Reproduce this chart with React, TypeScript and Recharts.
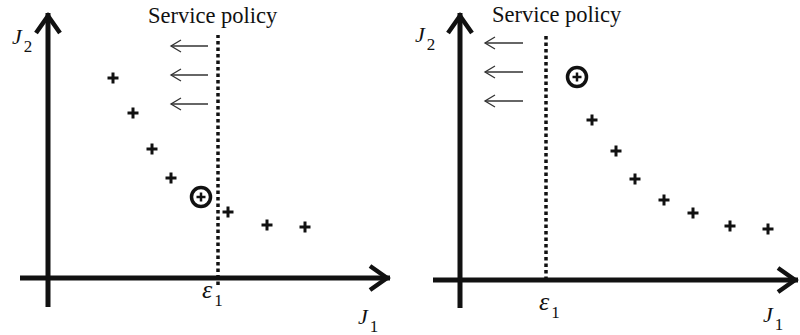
import React from "react";
import { ScatterChart, Scatter, XAxis, YAxis, ReferenceLine } from "recharts";

// ---- data (J1 horizontal objective, J2 vertical objective) ----
const leftJ1 = [1.625, 2.125, 2.6, 3.075, 3.825, 4.5, 5.475, 6.425];
const leftJ2 = [5.0, 4.125, 3.225, 2.5, 2.025, 1.65, 1.325, 1.275];
const leftSelected = 4;
const leftEpsilon = 4.25;

const rightJ1 = [2.925, 3.3, 3.9, 4.375, 5.1, 5.825, 6.75, 7.7];
const rightJ2 = [5.075, 4.0, 3.225, 2.525, 2.0, 1.675, 1.35, 1.275];
const rightSelected = 0;
const rightEpsilon = 2.15;

const policyLabel = "Service policy";
const j1Label = { main: "J", sub: "1" };
const j2Label = { main: "J", sub: "2" };
const epsLabel = { main: "\u03b5", sub: "1" };

const INK = "#111";
const FONT = "'Liberation Serif', 'DejaVu Serif', serif";

type PanelCfg = {
  j1: number[];
  j2: number[];
  selected: number;
  eps: number;
  xDomain: [number, number];
  yDomain: [number, number];
  xAxisFrom: number;
  xAxisTo: number;
  yAxisFrom: number;
  yAxisTo: number;
  epsFrom: number;
  epsTo: number;
  arrowTail: number;
  arrowTip: number;
  arrowYs: number[];
  policyPos: { x: number; y: number };
  j2Pos: { x: number; y: number };
  j1Pos: { x: number; y: number };
  epsPos: { x: number; y: number };
};

const leftCfg: PanelCfg = {
  j1: leftJ1,
  j2: leftJ2,
  selected: leftSelected,
  eps: leftEpsilon,
  xDomain: [-1.2, 8.8],
  yDomain: [-1.425, 6.95],
  xAxisFrom: -0.7,
  xAxisTo: 8.55,
  yAxisFrom: -0.725,
  yAxisTo: 6.625,
  epsFrom: -0.175,
  epsTo: 6.075,
  arrowTail: 4.0,
  arrowTip: 3.075,
  arrowYs: [5.8, 5.075, 4.35],
  policyPos: { x: 2.5, y: 6.375 },
  j2Pos: { x: -0.9, y: 5.85 },
  j1Pos: { x: 7.75, y: -1.15 },
  epsPos: { x: 3.85, y: -0.5 },
};

const rightCfg: PanelCfg = {
  j1: rightJ1,
  j2: rightJ2,
  selected: rightSelected,
  eps: rightEpsilon,
  xDomain: [-1.5, 8.5],
  yDomain: [-1.375, 7.0],
  xAxisFrom: -0.675,
  xAxisTo: 8.45,
  yAxisFrom: -0.7,
  yAxisTo: 6.675,
  epsFrom: 0,
  epsTo: 6.175,
  arrowTail: 1.575,
  arrowTip: 0.625,
  arrowYs: [5.925, 5.2, 4.475],
  policyPos: { x: 0.8, y: 6.45 },
  j2Pos: { x: -1.125, y: 5.95 },
  j1Pos: { x: 7.575, y: -1.05 },
  epsPos: { x: 1.975, y: -0.75 },
};

const PlusShape = (props: any) => {
  const { cx, cy } = props;
  const a = 5.5;
  return (
    <g stroke={INK} strokeWidth={3}>
      <line x1={cx - a} y1={cy} x2={cx + a} y2={cy} />
      <line x1={cx} y1={cy - a} x2={cx} y2={cy + a} />
    </g>
  );
};

const CircledPlusShape = (props: any) => {
  const { cx, cy } = props;
  const a = 4.5;
  return (
    <g stroke={INK}>
      <circle cx={cx} cy={cy} r={9.5} fill="none" strokeWidth={3.5} />
      <line x1={cx - a} y1={cy} x2={cx + a} y2={cy} strokeWidth={2.5} />
      <line x1={cx} y1={cy - a} x2={cx} y2={cy + a} strokeWidth={2.5} />
    </g>
  );
};

const BigHead = (props: any) => {
  const { cx, cy, payload } = props;
  const L = 17;
  const W = 12;
  if (payload.dir === "up") {
    const tipY = cy + 3;
    return (
      <polyline
        points={`${cx - W},${tipY + L} ${cx},${tipY} ${cx + W},${tipY + L}`}
        fill="none"
        stroke={INK}
        strokeWidth={4.5}
        strokeLinejoin="miter"
      />
    );
  }
  const tipX = cx - 3;
  return (
    <polyline
      points={`${tipX - L},${cy - W} ${tipX},${cy} ${tipX - L},${cy + W}`}
      fill="none"
      stroke={INK}
      strokeWidth={4.5}
      strokeLinejoin="miter"
    />
  );
};

const SmallHead = (props: any) => {
  const { cx, cy } = props;
  return (
    <polyline
      points={`${cx + 10},${cy - 6} ${cx},${cy} ${cx + 10},${cy + 6}`}
      fill="none"
      stroke="#333"
      strokeWidth={1.3}
    />
  );
};

const LabelShape = (props: any) => {
  const { cx, cy, payload } = props;
  if (payload.kind === "plain") {
    return (
      <text x={cx} y={cy} fontFamily={FONT} fontSize={22.5} fill={INK} textAnchor="start">
        {payload.text}
      </text>
    );
  }
  return (
    <text x={cx} y={cy} fontFamily={FONT} fill={INK} textAnchor="start">
      <tspan fontStyle="italic" fontSize={payload.size}>
        {payload.main}
      </tspan>
      <tspan fontSize={17} dx={2} dy={8}>
        {payload.sub}
      </tspan>
    </text>
  );
};

const Panel = ({ cfg }: { cfg: PanelCfg }) => {
  const points = cfg.j1.map((x, i) => ({ x, y: cfg.j2[i] }));
  const regular = points.filter((_, i) => i !== cfg.selected);
  const chosen = [points[cfg.selected]];
  const heads = [
    { x: cfg.xAxisTo, y: 0, dir: "right" },
    { x: 0, y: cfg.yAxisTo, dir: "up" },
  ];
  const smallHeads = cfg.arrowYs.map((y) => ({ x: cfg.arrowTip, y }));
  const labels = [
    { x: cfg.policyPos.x, y: cfg.policyPos.y, kind: "plain", text: policyLabel },
    { x: cfg.j2Pos.x, y: cfg.j2Pos.y, kind: "sub", main: j2Label.main, sub: j2Label.sub, size: 22 },
    { x: cfg.j1Pos.x, y: cfg.j1Pos.y, kind: "sub", main: j1Label.main, sub: j1Label.sub, size: 22 },
    { x: cfg.epsPos.x, y: cfg.epsPos.y, kind: "sub", main: epsLabel.main, sub: epsLabel.sub, size: 26 },
  ];
  return (
    <ScatterChart width={400} height={335} margin={{ top: 0, right: 0, bottom: 0, left: 0 }}>
      <XAxis type="number" dataKey="x" domain={cfg.xDomain} hide allowDataOverflow />
      <YAxis type="number" dataKey="y" domain={cfg.yDomain} hide allowDataOverflow />
      <ReferenceLine
        segment={[
          { x: cfg.xAxisFrom, y: 0 },
          { x: cfg.xAxisTo, y: 0 },
        ]}
        stroke={INK}
        strokeWidth={5}
      />
      <ReferenceLine
        segment={[
          { x: 0, y: cfg.yAxisFrom },
          { x: 0, y: cfg.yAxisTo },
        ]}
        stroke={INK}
        strokeWidth={5}
      />
      <ReferenceLine
        segment={[
          { x: cfg.eps, y: cfg.epsFrom },
          { x: cfg.eps, y: cfg.epsTo },
        ]}
        stroke={INK}
        strokeWidth={3.5}
        strokeDasharray="3.5 3"
      />
      {cfg.arrowYs.map((y, i) => (
        <ReferenceLine
          key={i}
          segment={[
            { x: cfg.arrowTip, y },
            { x: cfg.arrowTail, y },
          ]}
          stroke="#333"
          strokeWidth={1.3}
        />
      ))}
      <Scatter data={heads} shape={BigHead} isAnimationActive={false} />
      <Scatter data={smallHeads} shape={SmallHead} isAnimationActive={false} />
      <Scatter data={regular} shape={PlusShape} isAnimationActive={false} />
      <Scatter data={chosen} shape={CircledPlusShape} isAnimationActive={false} />
      <Scatter data={labels} shape={LabelShape} isAnimationActive={false} />
    </ScatterChart>
  );
}

export default function App() {
  return (
    <div
      style={{
        position: "absolute",
        left: 0,
        top: 0,
        width: 800,
        height: 335,
        display: "flex",
        background: "#fff",
      }}
    >
      <Panel cfg={leftCfg} />
      <Panel cfg={rightCfg} />
    </div>
  );
}
